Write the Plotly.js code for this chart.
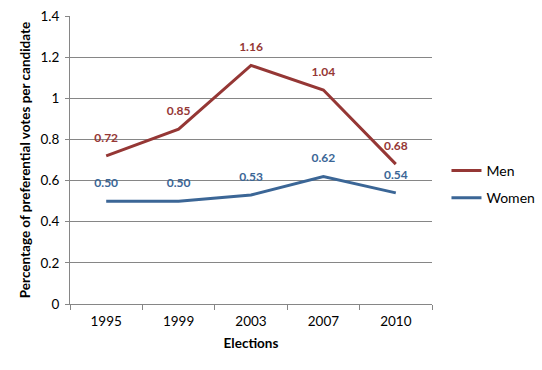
<!DOCTYPE html>
<html><head><meta charset="utf-8">
<script src="https://cdn.plot.ly/plotly-3.0.1.min.js"></script>
<style>html,body{margin:0;padding:0;background:#fff}#chart{width:542px;height:370px}</style>
</head><body><div id="chart"></div>
<script>
const years = ["1995","1999","2003","2007","2010"];
const men = [0.72,0.85,1.16,1.04,0.68];
const women = [0.50,0.50,0.53,0.62,0.54];
const menColor = "#953735";
const womenColor = "#3B6696";
const font = "Lato, 'Open Sans', sans-serif";

function series(vals, name, col, grp) {
  return {
    x: years, y: vals, name: name, type: "scatter", mode: "lines+markers+text",
    legendgroup: grp,
    line: {color: col, width: 3},
    marker: {size: 16, color: "rgba(0,0,0,0)", line: {width: 0}},
    text: vals.map(v => v.toFixed(2)),
    textposition: "top center",
    textfont: {family: font, size: 12, color: col, weight: "bold"},
    cliponaxis: false
  };
}
const traces = [series(men, "Men", menColor, "a"), series(women, "Women", womenColor, "b")];

const layout = {
  width: 542, height: 370,
  margin: {l: 70, r: 110, t: 16, b: 66, autoexpand: false},
  paper_bgcolor: "#fff", plot_bgcolor: "#fff",
  font: {family: font, size: 13, color: "#000"},
  showlegend: true,
  legend: {x: 1.04, y: 0.415, xanchor: "left", yanchor: "middle", traceorder: "grouped",
           font: {family: font, size: 14, color: "#000"}, tracegroupgap: 6},
  xaxis: {
    type: "category", showgrid: false, showline: true, linecolor: "#868686", linewidth: 1,
    ticks: "outside", tickson: "boundaries", ticklen: 5, tickcolor: "#868686",
    tickfont: {size: 13.5}, range: [-0.5, 4.5], ticklabelstandoff: 5,
    title: {text: "Elections", font: {size: 13.5, weight: "bold"}, standoff: 10}
  },
  yaxis: {
    range: [0, 1.4], dtick: 0.2, showgrid: true, gridcolor: "#868686", gridwidth: 1,
    showline: true, linecolor: "#868686", linewidth: 1, ticks: "outside", ticklen: 4, tickcolor: "#868686",
    zeroline: false, tickfont: {size: 13.5}, ticklabelstandoff: 3,
    title: {text: "Percentage of preferential votes per candidate", font: {size: 13.5, weight: "bold"}, standoff: 6}
  }
};
Plotly.newPlot("chart", traces, layout, {displayModeBar: false, staticPlot: true});
</script></body></html>
